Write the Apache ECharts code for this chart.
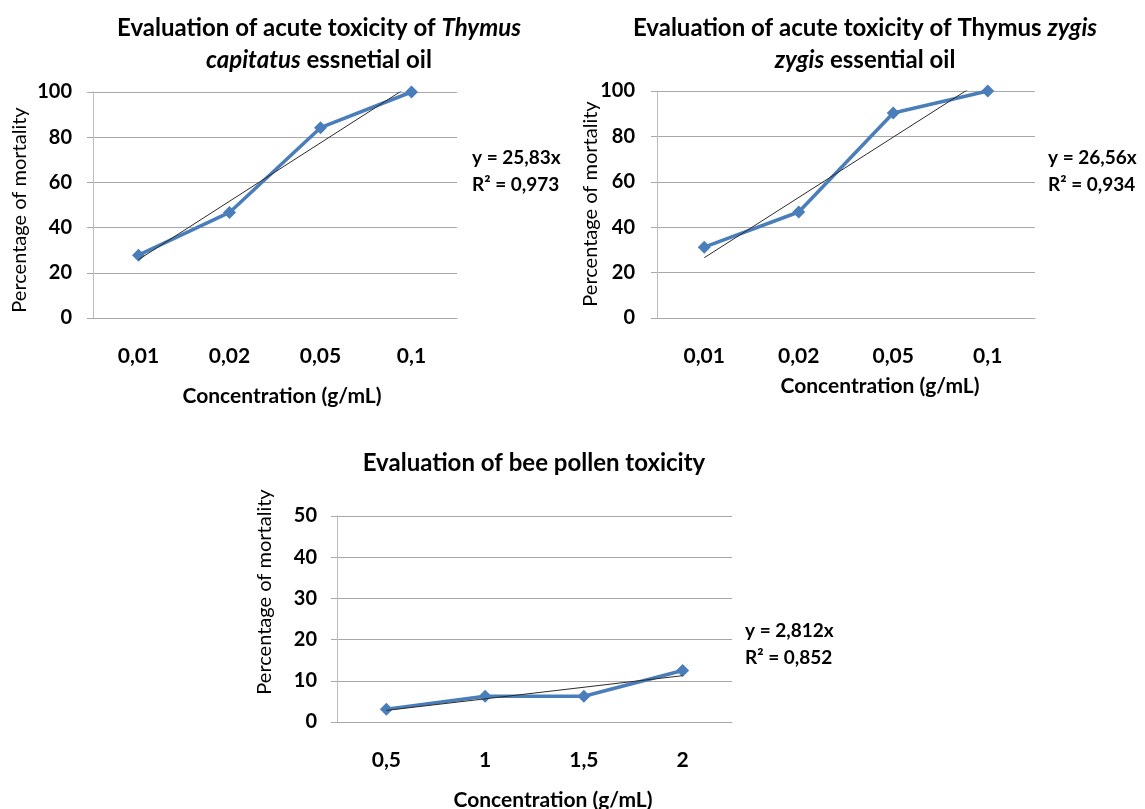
<!DOCTYPE html>
<html>
<head>
<meta charset="utf-8">
<script src="https://cdn.jsdelivr.net/npm/echarts@6/dist/echarts.min.js"></script>
<style>
  html, body { margin: 0; padding: 0; background: #ffffff; }
  #chart { width: 1145px; height: 809px; }
</style>
</head>
<body>
<div id="chart"></div>
<script>
// Concentrations tested (g/mL), shown as category ticks
const capitatusDoses = ['0,01', '0,02', '0,05', '0,1'];
const zygisDoses = ['0,01', '0,02', '0,05', '0,1'];
const pollenDoses = ['0,5', '1', '1,5', '2'];

// Percentage of mortality at each concentration
const capitatusMortality = [27.8, 46.7, 84.2, 100];
const zygisMortality = [31.2, 46.7, 90.3, 100];
const pollenMortality = [3.125, 6.25, 6.25, 12.5];

// Linear trendlines through the origin (x = rank of the concentration) and their R²
const capitatusSlope = 25.83;
const capitatusR2 = 0.973;
const zygisSlope = 26.56;
const zygisR2 = 0.934;
const pollenSlope = 2.812;
const pollenR2 = 0.852;

// Y-axis ranges
const oilAxisRange = [0, 100, 20];
const pollenAxisRange = [0, 50, 10];

const FONT = 'Lato, "Open Sans", sans-serif';
const BLUE = '#4A7EBB';
const GRID_GREY = '#A8A8A8';
const AXIS_GREY = '#BDBDBD';

const comma = v => String(v).replace('.', ',');

const grids = [
  { left: 93, top: 92, width: 364, height: 226 },
  { left: 657, top: 91, width: 378, height: 227 },
  { left: 337, top: 516, width: 395, height: 206 }
];

function categoryAxis(gridIndex, cats) {
  return {
    type: 'category', gridIndex, data: cats, boundaryGap: true,
    axisLine: { show: true, lineStyle: { color: GRID_GREY, width: 1 } },
    axisTick: { show: false },
    splitLine: { show: false },
    axisLabel: { margin: 28, color: '#000', fontFamily: FONT, fontWeight: 'bold', fontSize: 21 }
  };
}

// Hidden numeric axis (category ranks 1..4) used to draw the trendlines
function rankAxis(gridIndex) {
  return { type: 'value', gridIndex, min: 0.5, max: 4.5, show: false };
}

function valueAxis(gridIndex, range, margin) {
  return {
    type: 'value', gridIndex, min: range[0], max: range[1], interval: range[2],
    axisLine: { show: true, lineStyle: { color: AXIS_GREY, width: 1 } },
    axisTick: { show: true, inside: false, length: 6, lineStyle: { color: GRID_GREY } },
    splitLine: { show: true, lineStyle: { color: GRID_GREY, width: 1 } },
    axisLabel: { margin, color: '#000', fontFamily: FONT, fontWeight: 'bold', fontSize: 20 }
  };
}

function dataSeries(idx, values) {
  return {
    type: 'line', xAxisIndex: idx, yAxisIndex: idx, data: values,
    symbol: 'diamond', symbolSize: 13,
    itemStyle: { color: BLUE },
    lineStyle: { color: BLUE, width: 3.5 },
    z: 2
  };
}

function trendSeries(idx, slope) {
  return {
    type: 'line', xAxisIndex: idx + 3, yAxisIndex: idx,
    data: [[1, slope * 1], [4, slope * 4]],
    symbol: 'none', clip: true,
    lineStyle: { color: '#2b2b2b', width: 1 },
    z: 3
  };
}

function titleText(cx, cy, text) {
  return {
    type: 'text', x: cx, y: cy,
    style: {
      text, align: 'center', verticalAlign: 'middle',
      rich: {
        b: { fontFamily: FONT, fontWeight: 'bold', fontSize: 24, lineHeight: 32, align: 'center', fill: '#000' },
        bi: { fontFamily: FONT, fontWeight: 'bold', fontStyle: 'italic', fontSize: 24, lineHeight: 32, align: 'center', fill: '#000' }
      }
    }
  };
}

function plainText(x, y, text, opts) {
  return {
    type: 'text', x, y, rotation: opts.rotation || 0,
    style: {
      text, align: opts.align || 'center', verticalAlign: 'middle',
      font: (opts.weight || 'normal') + ' ' + opts.size + 'px ' + FONT, fill: '#000'
    }
  };
}

function equation(x, y, slope, r2) {
  return {
    type: 'text', x, y,
    style: {
      text: 'y = ' + comma(slope) + 'x\nR\u00B2 = ' + comma(r2),
      align: 'left', verticalAlign: 'middle', lineHeight: 27,
      font: 'bold 19px ' + FONT, fill: '#000'
    }
  };
}

const option = {
  backgroundColor: '#ffffff',
  animation: false,
  grid: grids,
  xAxis: [
    categoryAxis(0, capitatusDoses),
    categoryAxis(1, zygisDoses),
    categoryAxis(2, pollenDoses),
    rankAxis(0), rankAxis(1), rankAxis(2)
  ],
  yAxis: [
    valueAxis(0, oilAxisRange, 21),
    valueAxis(1, oilAxisRange, 22),
    valueAxis(2, pollenAxisRange, 20)
  ],
  series: [
    dataSeries(0, capitatusMortality), trendSeries(0, capitatusSlope),
    dataSeries(1, zygisMortality), trendSeries(1, zygisSlope),
    dataSeries(2, pollenMortality), trendSeries(2, pollenSlope)
  ],
  graphic: [
    titleText(319, 44, '{b|Evaluation of acute toxicity of }{bi|Thymus}\n{bi|capitatus}{b| essnetial oil}'),
    titleText(865, 44, '{b|Evaluation of acute toxicity of Thymus }{bi|zygis}\n{bi|zygis}{b| essential oil}'),
    titleText(534, 463, '{b|Evaluation of bee pollen toxicity}'),

    plainText(20, 210, 'Percentage of mortality', { size: 20, rotation: Math.PI / 2 }),
    plainText(591, 204, 'Percentage of mortality', { size: 20, rotation: Math.PI / 2 }),
    plainText(265, 592, 'Percentage of mortality', { size: 20, rotation: Math.PI / 2 }),

    plainText(282, 396, 'Concentration (g/mL)', { size: 21, weight: 'bold' }),
    plainText(880, 386, 'Concentration (g/mL)', { size: 21, weight: 'bold' }),
    plainText(553, 800, 'Concentration (g/mL)', { size: 21, weight: 'bold' }),

    equation(472, 171, capitatusSlope, capitatusR2),
    equation(1048, 171, zygisSlope, zygisR2),
    equation(745, 644, pollenSlope, pollenR2)
  ]
};

const chart = echarts.init(document.getElementById('chart'), null, { renderer: 'canvas' });
chart.setOption(option);
</script>
</body>
</html>
